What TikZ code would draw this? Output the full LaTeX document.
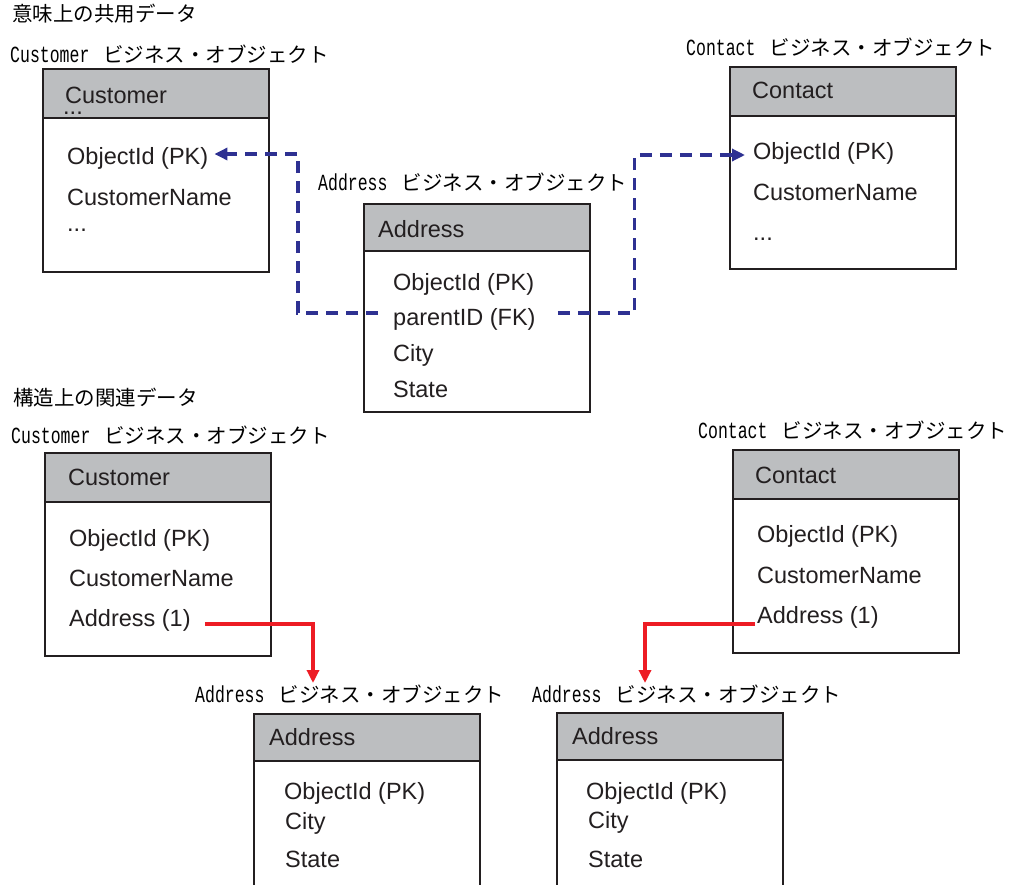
\documentclass[tikz,border=0pt]{standalone}
\usepackage{fontspec}
\usepackage{graphicx}
\usetikzlibrary{arrows.meta}
\setmainfont{Liberation Sans}
\newfontfamily\jpfont{Noto Sans CJK JP}
\newfontfamily\labelmono{Liberation Mono}
\definecolor{hdrgray}{HTML}{BCBEC0}
\definecolor{linkblue}{HTML}{2E3192}
\definecolor{linkred}{HTML}{ED1C24}
\definecolor{ink}{HTML}{231F20}
% caption above each entity box: tall monospace name + Japanese suffix
\newcommand\bolabel[1]{\scalebox{1}[1.4]{\fontsize{16.5}{18}\labelmono #1}\hspace{14pt}{\fontsize{20.5}{22}\jpfont ビジネス・オブジェクト}}
\begin{document}
\begin{tikzpicture}[x=1pt,y=-1pt,
  ebox/.style={draw=ink, line width=2pt, fill=white, anchor=north west, inner sep=0pt, minimum width=226pt},
  ehead/.style={draw=ink, line width=2pt, fill=hdrgray, anchor=north west, inner sep=0pt, minimum width=226pt, minimum height=49pt},
  item/.style={anchor=base west, inner sep=0pt, font=\fontsize{23.5}{26}\selectfont, text=ink},
  lbl/.style={anchor=base west, inner sep=0pt, text=black},
  sect/.style={anchor=base west, inner sep=0pt, font=\fontsize{20.5}{22}\jpfont, text=black},
  bluelink/.style={draw=linkblue, line width=3.2pt, dash pattern=on 12pt off 8pt, -{Triangle[length=13pt,width=12pt]}},
  redlink/.style={draw=linkred, line width=3.2pt, -{Triangle[length=13pt,width=12pt]}}]
\useasboundingbox (0,0) rectangle (1016,884);
\clip (0,0) rectangle (1016,884);

% ---------- shared data (semantic) ----------
\node[sect] (secA) at (12,21.5) {意味上の共用データ};

% Customer
\node[lbl] (labCu1) at (10,62) {\bolabel{Customer}};
\node[ebox, minimum height=203pt] (cu1) at (42,68) {};
\node[ehead] (cu1h) at (42,68) {};
\node[item] (cu1t) at (65,103) {Customer};
\node[item] (cu1d) at (63,114) {...};
\node[item] (cu1obj) at (67,164) {ObjectId (PK)};
\node[item] (cu1nm) at (67,205) {CustomerName};
\node[item] (cu1more) at (67,231.5) {...};

% Address
\node[lbl] (labAd1) at (318,190) {\bolabel{Address}};
\node[ebox, minimum height=208pt] (ad1) at (363,203) {};
\node[ehead, minimum height=47pt] (ad1h) at (363,203) {};
\node[item] (ad1t) at (378,237) {Address};
\node[item] (ad1obj) at (393,290) {ObjectId (PK)};
\node[item] (apar) at (393,325) {parentID (FK)};
\node[item] (ad1city) at (393,361) {City};
\node[item] (ad1st) at (393,397) {State};

% Contact
\node[lbl] (labCt1) at (686,55) {\bolabel{Contact}};
\node[ebox, minimum height=202pt] (ct1) at (729,66) {};
\node[ehead] (ct1h) at (729,66) {};
\node[item] (ct1t) at (752,98) {Contact};
\node[item] (ct1obj) at (753,159) {ObjectId (PK)};
\node[item] (ct1nm) at (753,200) {CustomerName};
\node[item] (ct1more) at (753,240) {...};

% foreign key links
\coordinate (pl) at ([xshift=-15pt,yshift=12pt]apar.base west);
\coordinate (pr) at ([xshift=22pt,yshift=12pt]apar.base east);
\coordinate (cu1tip) at ([xshift=6pt,yshift=10pt]cu1obj.base east);
\coordinate (ct1tip) at ([xshift=-8pt,yshift=4pt]ct1obj.base west);
\draw[bluelink] (pl) -- ++(-80,0) |- (cu1tip);
\draw[bluelink] (pr) -- ++(77,0) |- (ct1tip);

% ---------- related data (structural) ----------
\node[sect] (secB) at (13,405.5) {構造上の関連データ};

% Customer
\node[lbl] (labCu2) at (11,443) {\bolabel{Customer}};
\node[ebox, minimum height=203pt] (cu2) at (44,452) {};
\node[ehead] (cu2h) at (44,452) {};
\node[item] (cu2t) at (68,485) {Customer};
\node[item] (cu2obj) at (69,546) {ObjectId (PK)};
\node[item] (cu2nm) at (69,586) {CustomerName};
\node[item] (cu2addr) at (69,626) {Address (1)};

% Contact
\node[lbl] (labCt2) at (698,438) {\bolabel{Contact}};
\node[ebox, minimum height=203pt] (ct2) at (732,449) {};
\node[ehead] (ct2h) at (732,449) {};
\node[item] (ct2t) at (755,483) {Contact};
\node[item] (ct2obj) at (757,542) {ObjectId (PK)};
\node[item] (ct2nm) at (757,583) {CustomerName};
\node[item] (ct2addr) at (757,623) {Address (1)};

% child Address objects
\node[lbl] (labAd2) at (195,702) {\bolabel{Address}};
\node[ebox, minimum height=220pt] (ad2) at (253,713) {};
\node[ehead, minimum height=47pt] (ad2h) at (253,713) {};
\node[item] (ad2t) at (269,745) {Address};
\node[item] (ad2obj) at (284,799) {ObjectId (PK)};
\node[item] (ad2city) at (285,829) {City};
\node[item] (ad2st) at (285,867) {State};

\node[lbl] (labAd3) at (532,702) {\bolabel{Address}};
\node[ebox, minimum height=220pt] (ad3) at (556,712) {};
\node[ehead, minimum height=47pt] (ad3h) at (556,712) {};
\node[item] (ad3t) at (572,744) {Address};
\node[item] (ad3obj) at (586,799) {ObjectId (PK)};
\node[item] (ad3city) at (588,828) {City};
\node[item] (ad3st) at (588,867) {State};

% containment links
\coordinate (rs1) at ([xshift=14pt,yshift=2pt]cu2addr.base east);
\coordinate (rt1) at ([xshift=118pt,yshift=19pt]labAd2.base west);
\coordinate (rs2) at ([xshift=-2pt,yshift=-1pt]ct2addr.base west);
\coordinate (rt2) at ([xshift=113pt,yshift=19pt]labAd3.base west);
\draw[redlink] (rs1) -| (rt1);
\draw[redlink] (rs2) -| (rt2);
\end{tikzpicture}
\end{document}
